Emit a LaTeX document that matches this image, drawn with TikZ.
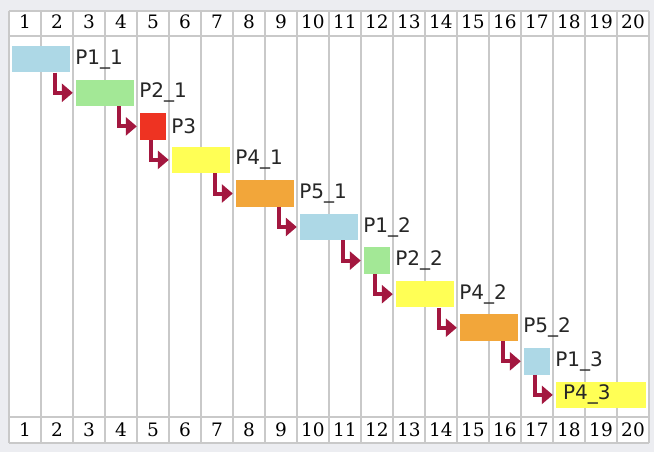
\documentclass[tikz,border=0pt]{standalone}
\usepackage{fontspec}
\setmainfont{DejaVu Sans}
\newfontfamily\numfont{DejaVu Serif}
\usetikzlibrary{arrows.meta, positioning}

\definecolor{fondo}{HTML}{ECEDF1}
\definecolor{gris}{HTML}{C9C9C9}
\definecolor{azul}{HTML}{ADD8E6}
\definecolor{verde}{HTML}{A3E896}
\definecolor{rojo}{HTML}{EE3322}
\definecolor{amarillo}{HTML}{FFFF55}
\definecolor{naranja}{HTML}{F2A63A}
\definecolor{granate}{HTML}{A3173F}

\begin{document}
\begin{tikzpicture}[
    x=1pt, y=-1pt,
    % Estilos (un pixel de la imagen = 1pt)
    rejilla/.style={draw=gris, line width=2pt},
    num/.style={anchor=base, inner sep=0pt, font=\numfont\fontsize{18.5}{20}\selectfont, text=black},
    tarea/.style={rectangle, inner sep=0pt, minimum height=26.5pt},
    etiq/.style={inner sep=0pt, font=\fontsize{20}{24}\selectfont, text=black!85},
    flecha/.style={-{Triangle[length=11pt, width=18pt]}, line width=4pt, draw=granate, shorten >=3pt}
]

% --- FONDO Y REJILLA ---
\fill[fondo] (0,0) rectangle (654,452);
\fill[white] (9,11) rectangle (649,443);
\foreach \i in {0,...,20}
    \draw[rejilla] ({9+32*\i},11) -- ({9+32*\i},443);
\foreach \y in {11,36,417,443}
    \draw[rejilla] (9,\y) -- (649,\y);

% --- NUMEROS DE COLUMNA (arriba y abajo) ---
\foreach \i in {1,...,20} {
    \node[num] (arriba\i) at ({32*\i-7},28.7) {\i};
    \node[num] (abajo\i) at ({32*\i-7},436.5) {\i};
}

% --- TAREAS ---
\node[tarea, fill=azul, minimum width=58pt]     (p11) at (41, 59.25) {};
\node[tarea, fill=verde, minimum width=58pt]    (p21) at (105, 92.8) {};
\node[tarea, fill=rojo, minimum width=26pt]     (p3)  at (153, 126.4) {};
\node[tarea, fill=amarillo, minimum width=58pt] (p41) at (201, 159.9) {};
\node[tarea, fill=naranja, minimum width=58pt]  (p51) at (265, 193.5) {};
\node[tarea, fill=azul, minimum width=58pt]     (p12) at (329, 227.0) {};
\node[tarea, fill=verde, minimum width=26pt]    (p22) at (377, 260.6) {};
\node[tarea, fill=amarillo, minimum width=58pt] (p42) at (425, 294.2) {};
\node[tarea, fill=naranja, minimum width=58pt]  (p52) at (489, 327.7) {};
\node[tarea, fill=azul, minimum width=26pt]     (p13) at (537, 361.3) {};
\node[tarea, fill=amarillo, minimum width=90pt] (p43) at (601, 394.9) {};

% --- ETIQUETAS ---
\node[etiq, right=5pt of p11] (l11) {P1\_1};
\node[etiq, right=5pt of p21] (l21) {P2\_1};
\node[etiq, right=5pt of p3]  (l3)  {P3};
\node[etiq, right=5pt of p41] (l41) {P4\_1};
\node[etiq, right=5pt of p51] (l51) {P5\_1};
\node[etiq, right=5pt of p12] (l12) {P1\_2};
\node[etiq, right=5pt of p22] (l22) {P2\_2};
\node[etiq, right=5pt of p42] (l42) {P4\_2};
\node[etiq, right=5pt of p52] (l52) {P5\_2};
\node[etiq, right=5pt of p13] (l13) {P1\_3};
\node[etiq, anchor=west] (l43) at ([xshift=7pt]p43.west) {P4\_3};

% --- FLECHAS ENTRE TAREAS ---
\draw[flecha] ([xshift=-15pt]p11.south east) |- (p21.west);
\draw[flecha] ([xshift=-15pt]p21.south east) |- (p3.west);
\draw[flecha] ([xshift=-15pt]p3.south east)  |- (p41.west);
\draw[flecha] ([xshift=-15pt]p41.south east) |- (p51.west);
\draw[flecha] ([xshift=-15pt]p51.south east) |- (p12.west);
\draw[flecha] ([xshift=-15pt]p12.south east) |- (p22.west);
\draw[flecha] ([xshift=-15pt]p22.south east) |- (p42.west);
\draw[flecha] ([xshift=-15pt]p42.south east) |- (p52.west);
\draw[flecha] ([xshift=-15pt]p52.south east) |- (p13.west);
\draw[flecha] ([xshift=-15pt]p13.south east) |- (p43.west);

\end{tikzpicture}
\end{document}
